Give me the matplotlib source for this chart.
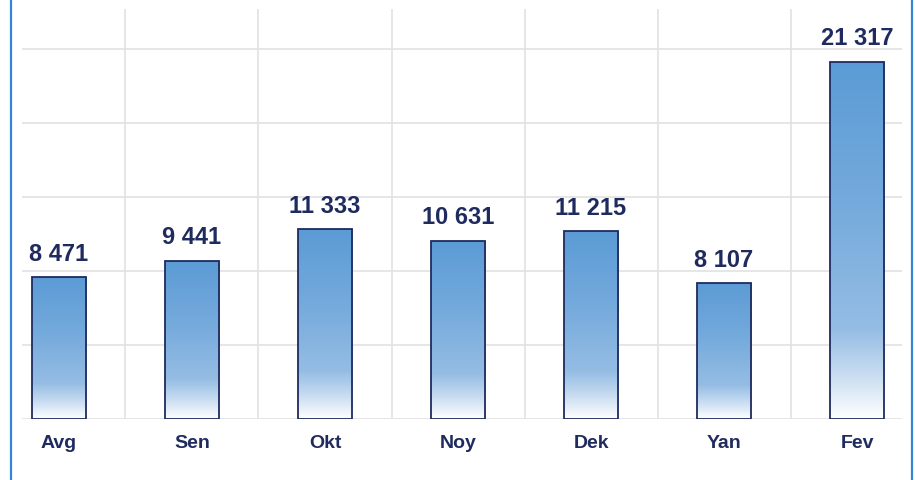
import numpy as np
import matplotlib.pyplot as plt
from matplotlib.colors import LinearSegmentedColormap
from matplotlib.lines import Line2D

months = ["Avg", "Sen", "Okt", "Noy", "Dek", "Yan", "Fev"]
values = [8471, 9441, 11333, 10631, 11215, 8107, 21317]
labels = ["8 471", "9 441", "11 333", "10 631", "11 215", "8 107", "21 317"]

navy = "#1f2b5e"
grid_step = 4415

plt.rcParams['font.family'] = ['Liberation Sans', 'DejaVu Sans']

fig = plt.figure(figsize=(9.15, 4.81), dpi=100)
ax = fig.add_axes([22 / 915, 61 / 481, 880 / 915, 410 / 481])
ax.set_axisbelow(True)

# gradient: white at the bottom of each bar, blue at the top
cmap = LinearSegmentedColormap.from_list(
    "bar", [(0.0, "#ffffff"), (0.12, "#c9ddf1"), (0.25, "#95bde4"),
            (0.6, "#75aadc"), (1.0, "#5b9bd5")])
grad = np.linspace(0, 1, 256).reshape(-1, 1)

x = np.arange(len(months))
width = 0.41
bars = ax.bar(x, values, width=width, color="none", edgecolor=navy,
              linewidth=1.3, zorder=3)
for b in bars:
    x0, w, h = b.get_x(), b.get_width(), b.get_height()
    im = ax.imshow(grad, cmap=cmap, origin="lower", aspect="auto",
                   extent=[x0, x0 + w, 0, h], zorder=2, interpolation="bicubic")
    im.set_clip_path(b)

for xi, v, lab in zip(x, values, labels):
    ax.annotate(lab, (xi, v), xytext=(0, 9), textcoords="offset points",
                ha="center", va="bottom", fontsize=17, fontweight="bold",
                color=navy)

ax.set_xlim(-0.278, 6.338)
ax.set_ylim(0, grid_step * 5.54)
ax.set_yticks(np.arange(0, grid_step * 5.5, grid_step))
ax.set_xticks(x[:-1] + 0.5, minor=True)
ax.set_xticks(x)
ax.set_xticklabels(months, fontsize=14, fontweight="bold", color=navy)
ax.tick_params(axis="x", which="both", length=0, pad=11)
ax.tick_params(axis="y", length=0, labelleft=False)
ax.grid(axis="y", which="major", color="#e2e2e2", linewidth=1.2, zorder=0)
ax.grid(axis="x", which="minor", color="#e2e2e2", linewidth=1.2, zorder=0)
ax.grid(axis="x", which="major", visible=False)
for s in ax.spines.values():
    s.set_visible(False)

# blue frame sides
fig.add_artist(Line2D([10.5 / 915, 10.5 / 915], [0, 1], color="#3385d6", lw=1.6))
fig.add_artist(Line2D([912 / 915, 912 / 915], [0, 1], color="#3385d6", lw=1.6))

fig.savefig("out.png", dpi=100)
